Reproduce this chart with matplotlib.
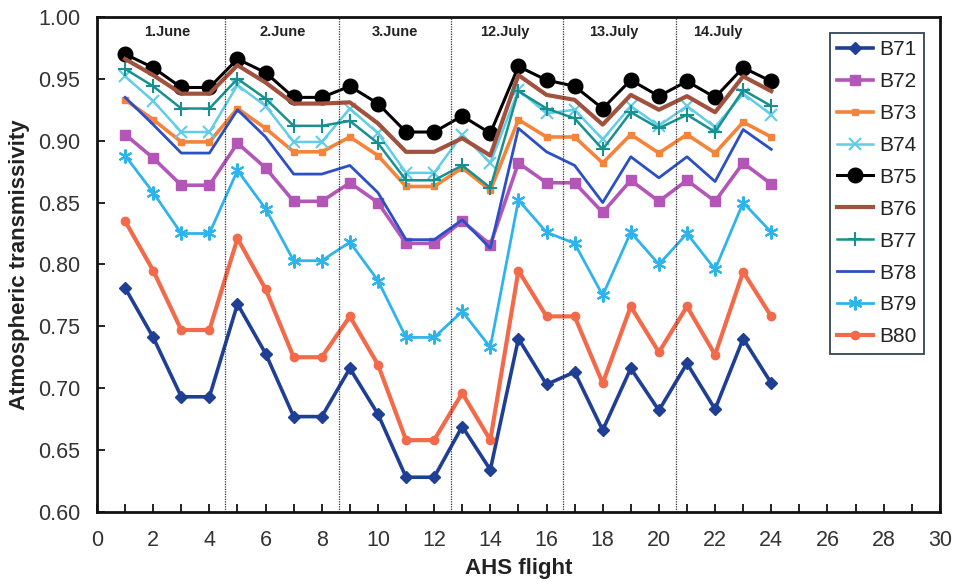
import matplotlib
matplotlib.use("Agg")
import matplotlib.pyplot as plt

plt.rcParams['font.family'] = ['Liberation Sans', 'DejaVu Sans']

flights = list(range(1, 25))

B71 = [0.781, 0.741, 0.693, 0.693, 0.768, 0.728, 0.677, 0.677, 0.716, 0.679, 0.628, 0.628,
       0.669, 0.634, 0.740, 0.703, 0.713, 0.666, 0.716, 0.682, 0.720, 0.683, 0.740, 0.704]
B72 = [0.905, 0.886, 0.864, 0.864, 0.898, 0.878, 0.851, 0.851, 0.866, 0.850, 0.817, 0.817,
       0.835, 0.816, 0.882, 0.866, 0.866, 0.842, 0.868, 0.851, 0.868, 0.851, 0.882, 0.865]
B73 = [0.933, 0.917, 0.899, 0.899, 0.926, 0.910, 0.891, 0.891, 0.903, 0.888, 0.863, 0.863,
       0.878, 0.860, 0.917, 0.903, 0.903, 0.882, 0.905, 0.890, 0.905, 0.890, 0.915, 0.903]
B74 = [0.952, 0.932, 0.907, 0.907, 0.945, 0.928, 0.899, 0.899, 0.926, 0.906, 0.874, 0.874,
       0.905, 0.882, 0.941, 0.922, 0.925, 0.901, 0.928, 0.912, 0.928, 0.911, 0.938, 0.921]
B75 = [0.970, 0.959, 0.943, 0.943, 0.966, 0.955, 0.935, 0.935, 0.944, 0.930, 0.907, 0.907,
       0.920, 0.906, 0.960, 0.949, 0.944, 0.926, 0.949, 0.936, 0.948, 0.935, 0.959, 0.948]
B76 = [0.966, 0.953, 0.938, 0.938, 0.961, 0.947, 0.930, 0.930, 0.931, 0.914, 0.891, 0.891,
       0.902, 0.888, 0.953, 0.937, 0.933, 0.913, 0.937, 0.925, 0.936, 0.923, 0.952, 0.940]
B77 = [0.958, 0.944, 0.926, 0.926, 0.950, 0.934, 0.912, 0.912, 0.916, 0.898, 0.868, 0.868,
       0.880, 0.862, 0.940, 0.926, 0.918, 0.893, 0.923, 0.910, 0.921, 0.907, 0.941, 0.928]
B78 = [0.935, 0.913, 0.890, 0.890, 0.925, 0.903, 0.873, 0.873, 0.880, 0.858, 0.820, 0.820,
       0.836, 0.813, 0.910, 0.891, 0.880, 0.850, 0.887, 0.870, 0.887, 0.867, 0.909, 0.893]
B79 = [0.888, 0.858, 0.825, 0.825, 0.876, 0.845, 0.803, 0.803, 0.818, 0.787, 0.741, 0.741,
       0.762, 0.733, 0.852, 0.826, 0.817, 0.775, 0.826, 0.800, 0.825, 0.796, 0.850, 0.826]
B80 = [0.835, 0.795, 0.747, 0.747, 0.821, 0.780, 0.725, 0.725, 0.758, 0.719, 0.658, 0.658,
       0.696, 0.658, 0.795, 0.758, 0.758, 0.704, 0.766, 0.729, 0.766, 0.727, 0.794, 0.758]

series_names = ["B71", "B72", "B73", "B74", "B75", "B76", "B77", "B78", "B79", "B80"]
series_values = [B71, B72, B73, B74, B75, B76, B77, B78, B79, B80]

day_labels = ["1.June", "2.June", "3.June", "12.July", "13.July", "14.July"]
day_label_x = [2.5, 6.6, 10.6, 14.5, 18.4, 22.1]
day_separators = [4.55, 8.6, 12.6, 16.6, 20.6]

styles = {
    "B71": dict(color="#1f3f94", marker="D", ms=6, lw=2.6),
    "B72": dict(color="#b455b8", marker="s", ms=7.5, lw=2.6),
    "B73": dict(color="#f5843a", marker="s", ms=5, lw=2.6),
    "B74": dict(color="#62cde6", marker="x", ms=8, lw=1.8, mew=1.5),
    "B75": dict(color="#000000", marker="o", ms=10.5, lw=2.2),
    "B76": dict(color="#a0523f", marker=None, ms=0, lw=3.0),
    "B77": dict(color="#17908f", marker="+", ms=10, lw=1.8, mew=1.5),
    "B78": dict(color="#2b4fc4", marker=None, ms=0, lw=2.0),
    "B79": dict(color="#2eb4ec", marker=(6, 2, 0), ms=10, lw=2.0, mew=1.5),
    "B80": dict(color="#f26a4a", marker="o", ms=6, lw=3.0),
}

fig = plt.figure(figsize=(9.55, 5.85), dpi=100)
ax = fig.add_axes([0.1016, 0.125, 0.8825, 0.846])

for name, vals in zip(series_names, series_values):
    st = styles[name]
    ax.plot(flights, vals, label=name, color=st["color"], marker=st["marker"],
            markersize=st["ms"], linewidth=st["lw"], markeredgewidth=st.get("mew", 1.0),
            markeredgecolor=st["color"])

for xs in day_separators:
    ax.axvline(xs, color="#333333", linestyle=(0, (1, 1)), linewidth=0.9)

for lab, lx in zip(day_labels, day_label_x):
    ax.text(lx, 0.988, lab, ha="center", va="center", fontsize=10.5, fontweight="bold",
            color="#222222")

ax.set_xlim(0, 30)
ax.set_ylim(0.60, 1.00)
ax.set_xticks(range(0, 31, 2))
ax.set_xticks(range(0, 31, 1), minor=True)
ax.set_yticks([0.60 + 0.05 * i for i in range(9)])
ax.set_yticklabels([f"{0.60 + 0.05 * i:.2f}" for i in range(9)])
ax.tick_params(axis="both", which="both", direction="in", labelsize=15.5,
               color="#111111", labelcolor="#333333")
ax.tick_params(axis="x", which="both", length=6, width=1.3, pad=13)
ax.tick_params(axis="y", which="major", length=6, width=1.3, pad=12)
for sp in ax.spines.values():
    sp.set_linewidth(2.0)
    sp.set_color("#111111")

ax.set_xlabel("AHS flight", fontsize=16, fontweight="bold", labelpad=5, color="#222222")
ax.set_ylabel("Atmospheric transmissivity", fontsize=16, fontweight="bold", labelpad=6,
              color="#222222")

leg = ax.legend(loc="upper right", bbox_to_anchor=(0.981, 0.968), fontsize=15,
                fancybox=False, edgecolor="#334455", framealpha=1.0,
                handlelength=1.7, labelspacing=0.62, borderpad=0.35, handletextpad=0.3,
                borderaxespad=0.0)
leg.get_frame().set_linewidth(1.3)
for t in leg.get_texts():
    t.set_color("#222222")

fig.savefig("out.png", dpi=100)
